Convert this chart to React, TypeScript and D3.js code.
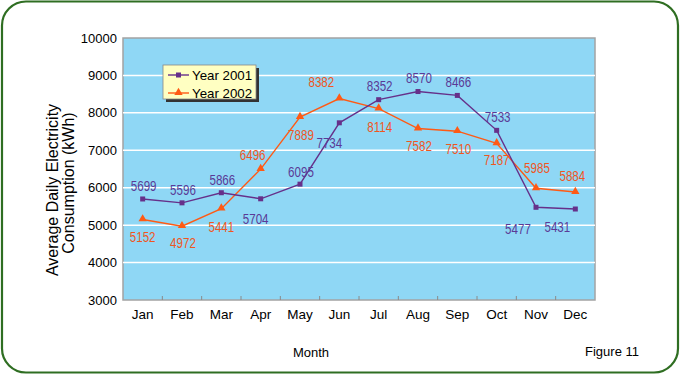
import React from "react";
import * as d3 from "d3";

const months = ["Jan","Feb","Mar","Apr","May","Jun","Jul","Aug","Sep","Oct","Nov","Dec"];
const year2001 = [5699,5596,5866,5704,6095,7734,8352,8570,8466,7533,5477,5431];
const year2002 = [5152,4972,5441,6496,7889,8382,8114,7582,7510,7187,5985,5884];
const yTicks = [3000,4000,5000,6000,7000,8000,9000,10000];
// label offsets (dx, dy) from the point
const off2001: [number, number][] = [[1,-13],[1,-13],[1,-13],[-5,20],[1,-12],[-10,20],[1,-14],[1,-13],[1,-13],[1,-13],[-18,22],[-18,18]];
const off2002: [number, number][] = [[0,18],[1,17],[0,18],[-8,-14],[1,18],[-18,-17],[1,18],[1,18],[1,18],[0,17],[1,-20],[-3,-16]];

const W = 680, H = 375;
const plot = { l: 123, r: 595, t: 38, b: 300 };
const C1 = "#66308a";
const C1t = "#5a3a96";
const C2 = "#ff5a14";
const C2t = "#f0561e";
const FONT = "'Liberation Sans', Arial, sans-serif";

export default function App() {
  const x = d3.scaleBand<string>().domain(months).range([plot.l, plot.r]);
  const y = d3.scaleLinear().domain([3000, 10000]).range([plot.b, plot.t]);
  const cx = (m: string) => (x(m) as number) + x.bandwidth() / 2;
  const line = d3.line<number>().x((_, i) => cx(months[i])).y((v) => y(v));
  const tri = d3.symbol().type(d3.symbolTriangle).size(30)();

  const label = (v: number, i: number, o: [number, number], col: string, k: string) => (
    <text key={k}
      transform={`translate(${cx(months[i]) + o[0]},${y(v) + o[1]}) scale(0.8,1)`}
      textAnchor="middle" dominantBaseline="central" fontSize={14.5} fill={col} fontFamily={FONT}>
      {v}
    </text>
  );

  return (
    <svg width={W} height={H} style={{ position: "absolute", left: 0, top: 0 }}>
      <rect x={0} y={0} width={W} height={H} fill="#fff" />
      <rect x={2} y={1.5} width={676} height={371} rx={24} ry={24} fill="#fff" stroke="#2f6e22" strokeWidth={2.2} />
      <rect x={plot.l} y={plot.t} width={plot.r - plot.l} height={plot.b - plot.t} fill="#8fd7f5" stroke="#a3a3a3" strokeWidth={1.5} />
      {yTicks.filter(t => t !== 3000 && t !== 10000).map(t => (
        <line key={t} x1={plot.l} x2={plot.r} y1={y(t)} y2={y(t)} stroke="#fff" strokeWidth={1.5} />
      ))}
      {months.slice(1).map(m => (
        <line key={m} x1={x(m)} x2={x(m)} y1={plot.b} y2={plot.b - 4} stroke="#8a8a8a" strokeWidth={1} />
      ))}
      {yTicks.map(t => (
        <text key={t} x={117} y={y(t)} textAnchor="end" dominantBaseline="central" fontSize={13} fontFamily={FONT} fill="#000">{t}</text>
      ))}
      {months.map(m => (
        <text key={m} x={cx(m)} y={314} textAnchor="middle" dominantBaseline="central" fontSize={13.5} fontFamily={FONT} fill="#000">{m}</text>
      ))}
      <path d={line(year2002) as string} fill="none" stroke={C2} strokeWidth={1.4} />
      <path d={line(year2001) as string} fill="none" stroke={C1} strokeWidth={1.4} />
      {year2002.map((v, i) => (
        <path key={"t" + i} d={tri as string} transform={`translate(${cx(months[i])},${y(v) - 0.5})`} fill={C2} />
      ))}
      {year2001.map((v, i) => (
        <rect key={"s" + i} x={cx(months[i]) - 2.5} y={y(v) - 2.5} width={5} height={5} fill={C1} />
      ))}
      {year2001.map((v, i) => label(v, i, off2001[i], C1t, "a" + i))}
      {year2002.map((v, i) => label(v, i, off2002[i], C2t, "b" + i))}
      {/* legend */}
      <rect x={166} y={68} width={93} height={34} fill="#333" />
      <rect x={163} y={65} width={93} height={34} fill="#ffffc2" stroke="#888" strokeWidth={0.8} />
      <line x1={168} x2={189} y1={75} y2={75} stroke={C1} strokeWidth={1.4} />
      <rect x={176} y={72.5} width={5} height={5} fill={C1} />
      <text x={192} y={75} dominantBaseline="central" fontSize={13.3} fontFamily={FONT} fill="#000">Year 2001</text>
      <line x1={168} x2={189} y1={93} y2={93} stroke={C2} strokeWidth={1.4} />
      <path d={tri as string} transform="translate(178.5,92.5)" fill={C2} />
      <text x={192} y={93} dominantBaseline="central" fontSize={13.3} fontFamily={FONT} fill="#000">Year 2002</text>
      {/* axis titles */}
      <text transform="translate(52,190) rotate(-90)" textAnchor="middle" dominantBaseline="central" fontSize={16} fontFamily={FONT} fill="#000">Average Daily Electricity</text>
      <text transform="translate(68,183) rotate(-90)" textAnchor="middle" dominantBaseline="central" fontSize={16} fontFamily={FONT} fill="#000">Consumption (kWh)</text>
      <text x={311} y={352} textAnchor="middle" dominantBaseline="central" fontSize={13} fontFamily={FONT} fill="#000">Month</text>
      <text x={612} y={351} textAnchor="middle" dominantBaseline="central" fontSize={13} fontFamily={FONT} fill="#000">Figure 11</text>
    </svg>
  );
}
